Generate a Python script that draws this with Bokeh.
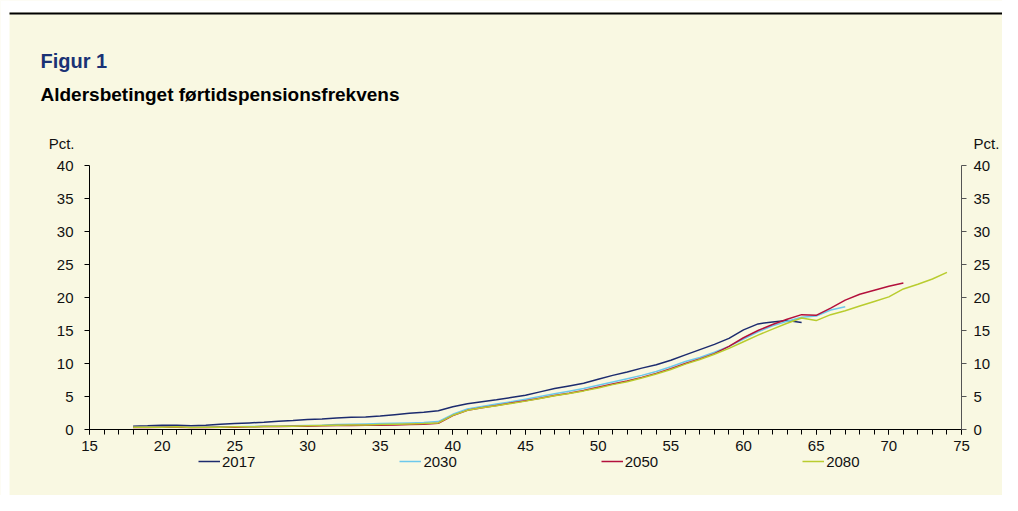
from bokeh.plotting import figure
from bokeh.models import (Range1d, LinearAxis, Label, Legend, LegendItem,
                          FixedTicker, BoxAnnotation)
from bokeh.embed import file_html
from bokeh.resources import INLINE

# ---------------- data ----------------
ages_2017 = list(range(18, 65))
vals_2017 = [0.5, 0.55, 0.65, 0.65, 0.55, 0.65, 0.8, 0.9, 1.0, 1.1, 1.25, 1.35,
             1.5, 1.6, 1.75, 1.85, 1.9, 2.05, 2.25, 2.45, 2.6, 2.85,
             3.45, 3.9, 4.2, 4.5, 4.85, 5.2, 5.7, 6.2, 6.6, 7.0,
             7.6, 8.2, 8.7, 9.3, 9.8, 10.5, 11.3, 12.1, 12.9, 13.8,
             15.1, 16.0, 16.3, 16.5, 16.2]

ages_2030 = list(range(18, 68))
vals_2030 = [0.35, 0.35, 0.4, 0.4, 0.35, 0.35, 0.4, 0.4, 0.45, 0.5, 0.5, 0.55,
             0.6, 0.65, 0.75, 0.8, 0.85, 0.9, 0.95, 1.0, 1.05, 1.2,
             2.3, 3.1, 3.5, 3.85, 4.2, 4.6, 5.0, 5.4, 5.8, 6.2,
             6.7, 7.2, 7.7, 8.2, 8.8, 9.5, 10.3, 10.9, 11.7, 12.6,
             13.7, 14.8, 15.7, 16.4, 17.0, 17.2, 18.1, 18.6]

ages_2050 = list(range(18, 72))
vals_2050 = [0.3, 0.3, 0.35, 0.35, 0.3, 0.3, 0.35, 0.35, 0.4, 0.45, 0.45, 0.5,
             0.5, 0.55, 0.6, 0.6, 0.65, 0.65, 0.7, 0.75, 0.8, 0.95,
             2.1, 2.9, 3.3, 3.65, 4.0, 4.35, 4.75, 5.15, 5.5, 5.9,
             6.4, 6.9, 7.35, 7.9, 8.5, 9.2, 10.0, 10.7, 11.5, 12.6,
             13.9, 15.0, 15.9, 16.7, 17.4, 17.3, 18.4, 19.6, 20.5, 21.1,
             21.7, 22.2]

ages_2080 = list(range(18, 75))
vals_2080 = [0.35, 0.35, 0.35, 0.4, 0.3, 0.35, 0.35, 0.4, 0.4, 0.45, 0.5, 0.5,
             0.55, 0.6, 0.65, 0.7, 0.7, 0.75, 0.8, 0.85, 0.9, 1.0,
             2.15, 2.9, 3.3, 3.6, 3.95, 4.3, 4.7, 5.1, 5.45, 5.85,
             6.3, 6.8, 7.25, 7.8, 8.4, 9.1, 9.9, 10.6, 11.4, 12.3,
             13.3, 14.3, 15.2, 16.1, 16.9, 16.5, 17.4, 18.0, 18.7, 19.4,
             20.1, 21.3, 22.0, 22.8, 23.8]

series_names = ["2017", "2030", "2050", "2080"]
series_colors = ["#1c2b6e", "#6cc8ec", "#b3103c", "#b9cc2e"]

x_ticks = list(range(15, 80, 5))
y_ticks = list(range(0, 45, 5))
X_MIN, X_MAX = 15, 75
Y_MIN, Y_MAX = 0, 40

title_text = "Figur 1"
subtitle_text = "Aldersbetinget førtidspensionsfrekvens"
unit_text = "Pct."

# ---------------- layout (pixels inside the figure) ----------------
W, H = 1002, 495
PX_LEFT, PX_RIGHT = 89, 961     # where X_MIN / X_MAX fall
PX_TOP, PX_BOTTOM = 165, 429    # where Y_MAX / Y_MIN fall
sx = (PX_RIGHT - PX_LEFT) / (X_MAX - X_MIN)
sy = (PX_BOTTOM - PX_TOP) / (Y_MAX - Y_MIN)
x_start = X_MIN - PX_LEFT / sx
x_end = X_MIN + (W - PX_LEFT) / sx
y_end = Y_MAX + PX_TOP / sy
y_start = Y_MIN - (H - PX_BOTTOM) / sy

BG = "#f9f8e2"
FONT = "Liberation Sans"
TXT = "#111111"

p = figure(width=W, height=H, output_backend="svg", toolbar_location=None,
           x_range=Range1d(x_start, x_end), y_range=Range1d(y_start, y_end),
           min_border=0, min_border_left=0, min_border_right=0,
           min_border_top=0, min_border_bottom=0,
           background_fill_color=BG, border_fill_color=BG,
           outline_line_color=None, y_axis_location=None)
p.grid.visible = False

# white strip with black rule along the top / left edge
p.add_layout(BoxAnnotation(bottom=y_end - 12 / sy, fill_color="white",
                           fill_alpha=1, line_color=None, level="underlay"))
p.add_layout(BoxAnnotation(right=x_start + 9 / sx, fill_color="white",
                           fill_alpha=1, line_color=None, level="underlay"))
p.add_layout(BoxAnnotation(left=x_start + 9 / sx,
                           top=y_end - 12 / sy, bottom=y_end - 14 / sy,
                           fill_color="black", fill_alpha=1, line_color=None,
                           level="underlay"))

renderers = []
for ages, vals, col in [(ages_2017, vals_2017, series_colors[0]),
                        (ages_2030, vals_2030, series_colors[1]),
                        (ages_2050, vals_2050, series_colors[2]),
                        (ages_2080, vals_2080, series_colors[3])]:
    r = p.line(ages, vals, line_color=col, line_width=1.5)
    renderers.append(r)

# x axis
xa = p.xaxis[0]
xa.fixed_location = Y_MIN
xa.bounds = (X_MIN, X_MAX)
xa.ticker = FixedTicker(ticks=x_ticks, minor_ticks=list(range(X_MIN, X_MAX + 1)))
xa.axis_line_color = "black"
xa.major_tick_line_color = "black"
xa.minor_tick_line_color = "black"
xa.major_tick_in = 0
xa.major_tick_out = 5
xa.minor_tick_in = 0
xa.minor_tick_out = 5
xa.major_label_text_font = FONT
xa.major_label_text_font_size = "15px"
xa.major_label_text_color = TXT
xa.major_label_standoff = 6

# left axis
ya = LinearAxis(ticker=FixedTicker(ticks=y_ticks), fixed_location=X_MIN,
                bounds=(Y_MIN, Y_MAX))
ya.axis_line_color = "black"
ya.major_tick_line_color = "black"
ya.minor_tick_line_color = None
ya.major_tick_in = 0
ya.major_tick_out = 5
ya.major_label_text_font = FONT
ya.major_label_text_font_size = "15px"
ya.major_label_text_color = TXT
ya.major_label_standoff = 11
p.add_layout(ya, "left")

# right axis
ya2 = LinearAxis(ticker=FixedTicker(ticks=y_ticks), fixed_location=X_MAX,
                 bounds=(Y_MIN, Y_MAX))
ya2.axis_line_color = "#555555"
ya2.major_tick_line_color = "#555555"
ya2.minor_tick_line_color = None
ya2.major_tick_in = 0
ya2.major_tick_out = 5
ya2.major_label_text_font = FONT
ya2.major_label_text_font_size = "15px"
ya2.major_label_text_color = TXT
ya2.major_label_standoff = 7
p.add_layout(ya2, "right")

# unit labels
p.add_layout(Label(x=X_MIN, y=Y_MAX, x_offset=-15, y_offset=22, text=unit_text,
                   text_align="right", text_baseline="alphabetic",
                   text_font=FONT, text_font_size="15px", text_color=TXT))
p.add_layout(Label(x=X_MAX, y=Y_MAX, x_offset=12, y_offset=22, text=unit_text,
                   text_align="left", text_baseline="alphabetic",
                   text_font=FONT, text_font_size="15px", text_color=TXT))

# titles
p.add_layout(Label(x=X_MIN, y=Y_MAX, x_offset=-49, y_offset=105, text=title_text,
                   text_align="left", text_baseline="alphabetic",
                   text_font=FONT, text_font_size="20px", text_font_style="bold",
                   text_color="#1a3275"))
p.add_layout(Label(x=X_MIN, y=Y_MAX, x_offset=-49, y_offset=71, text=subtitle_text,
                   text_align="left", text_baseline="alphabetic",
                   text_font=FONT, text_font_size="19px", text_font_style="bold",
                   text_color="#000000"))

# legend below the axis
legend = Legend(items=[LegendItem(label=n, renderers=[r])
                       for n, r in zip(series_names, renderers)],
                orientation="horizontal", location=(198, H - 461 - 10),
                background_fill_alpha=0, border_line_color=None,
                label_text_font=FONT, label_text_font_size="15px",
                label_text_color=TXT, glyph_height=20,
                glyph_width=22, label_standoff=2, spacing=144,
                padding=0, margin=0)
p.add_layout(legend, "center")

open("out.html", "w").write(file_html(p, INLINE))
